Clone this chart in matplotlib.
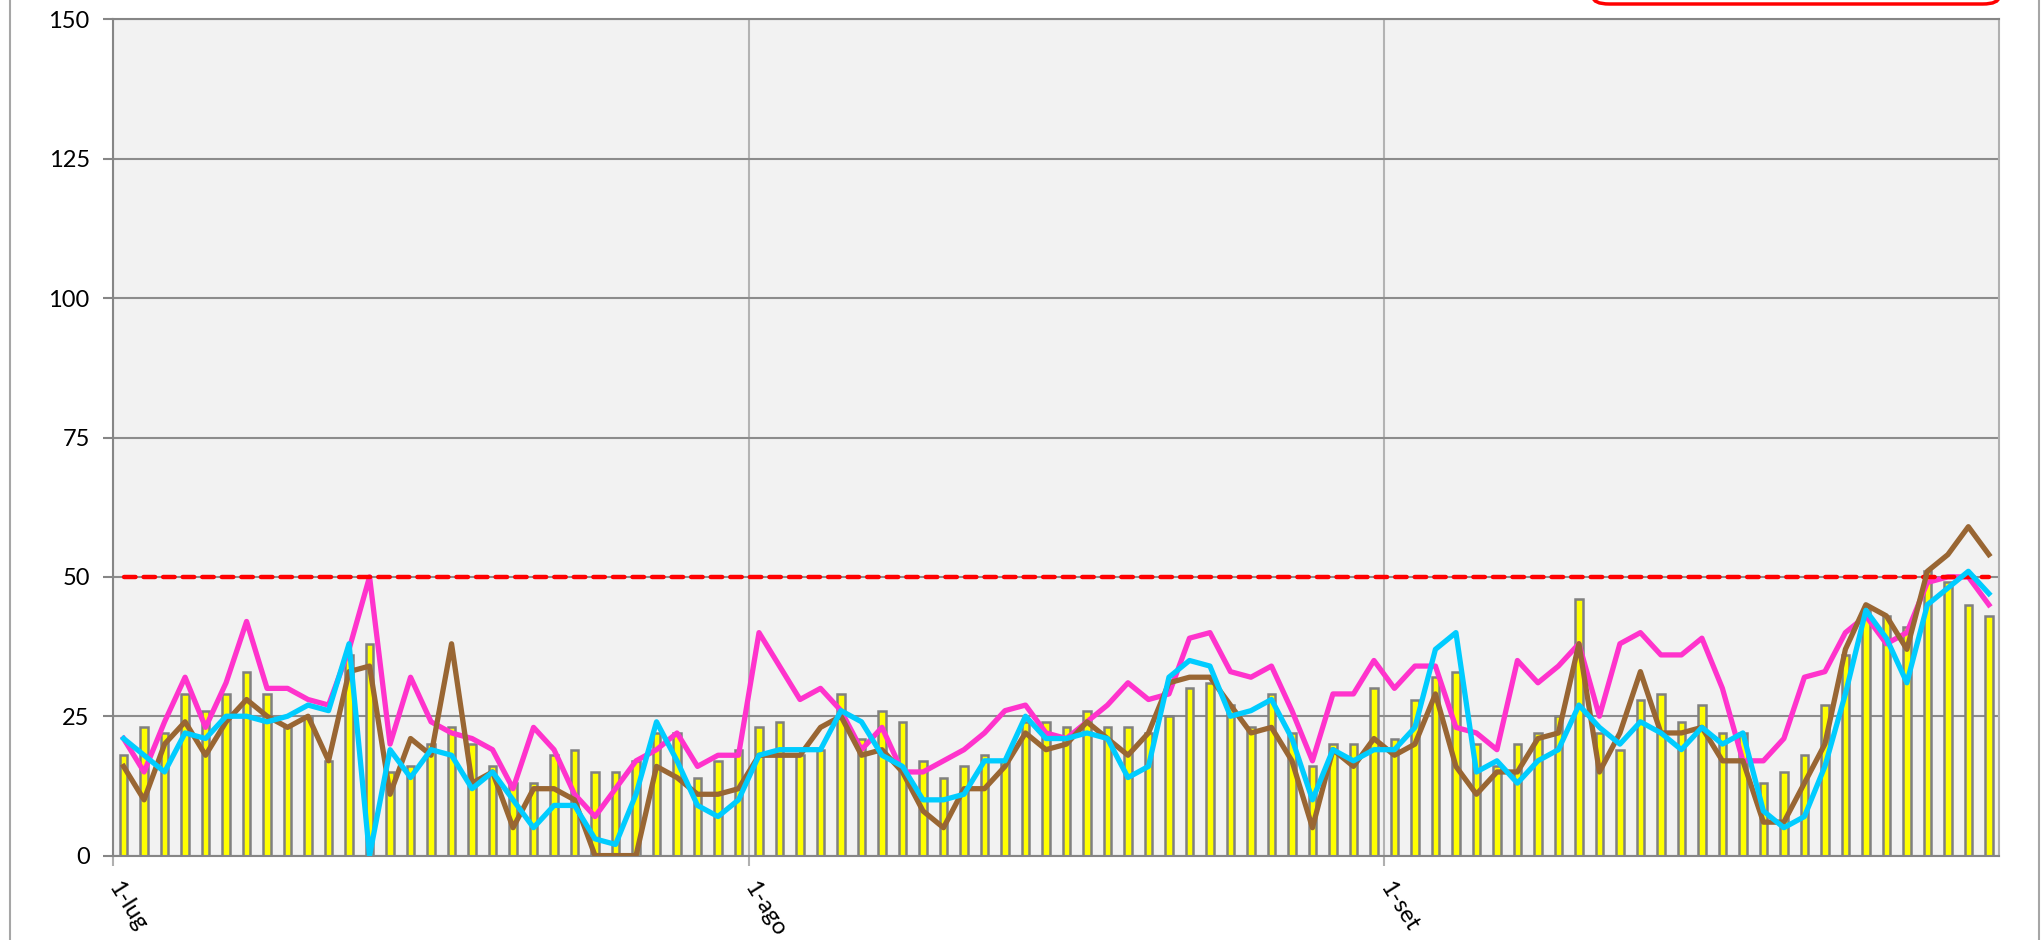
import matplotlib.pyplot as plt
import numpy as np
from matplotlib.patches import FancyBboxPatch

# daily values, 1 July -> 30 September (92 days)
bars = [18, 23, 22, 29, 26, 29, 33, 29, 23, 25, 17, 36, 38, 15, 16, 20,
        23, 20, 16, 13, 13, 18, 19, 15, 15, 17, 22, 22, 14, 17, 19,
        23, 24, 18, 19, 29, 21, 26, 24, 17, 14, 16, 18, 17, 24, 24,
        23, 26, 23, 23, 22, 25, 30, 31, 27, 23, 29, 22, 16, 20, 20, 30,
        21, 28, 32, 33, 20, 16, 20, 22, 25, 46, 22, 19, 28, 29, 24,
        27, 22, 22, 13, 15, 18, 27, 36, 44, 43, 41, 51, 49, 45, 43]
pink = [21, 15, 24, 32, 23, 31, 42, 30, 30, 28, 27, 37, 50, 20, 32, 24,
        22, 21, 19, 12, 23, 19, 11, 7, 12, 17, 19, 22, 16, 18, 18,
        40, 34, 28, 30, 26, 19, 23, 15, 15, 17, 19, 22, 26, 27, 22,
        21, 24, 27, 31, 28, 29, 39, 40, 33, 32, 34, 26, 17, 29, 29, 35,
        30, 34, 34, 23, 22, 19, 35, 31, 34, 38, 25, 38, 40, 36, 36,
        39, 30, 17, 17, 21, 32, 33, 40, 43, 38, 40, 49, 50, 50, 45]
brown = [16, 10, 20, 24, 18, 24, 28, 25, 23, 25, 17, 33, 34, 11, 21, 18,
         38, 13, 15, 5, 12, 12, 10, 0, 0, 0, 16, 14, 11, 11, 12,
         18, 18, 18, 23, 25, 18, 19, 15, 8, 5, 12, 12, 16, 22, 19,
         20, 24, 21, 18, 22, 31, 32, 32, 27, 22, 23, 17, 5, 19, 16, 21,
         18, 20, 29, 16, 11, 15, 15, 21, 22, 38, 15, 22, 33, 22, 22,
         23, 17, 17, 6, 6, 13, 20, 37, 45, 43, 37, 51, 54, 59, 54]
cyan = [21, 18, 15, 22, 21, 25, 25, 24, 25, 27, 26, 38, 0, 19, 14, 19,
        18, 12, 15, 10, 5, 9, 9, 3, 2, 11, 24, 17, 9, 7, 10,
        18, 19, 19, 19, 26, 24, 18, 16, 10, 10, 11, 17, 17, 25, 21,
        21, 22, 21, 14, 16, 32, 35, 34, 25, 26, 28, 21, 10, 19, 17, 19,
        19, 23, 37, 40, 15, 17, 13, 17, 19, 27, 23, 20, 24, 22, 19,
        23, 20, 22, 8, 5, 7, 16, 29, 44, 39, 31, 45, 48, 51, 47]
limit = [50] * len(bars)
month_ticks = [0, 31, 62]
month_labels = ['1-lug', '1-ago', '1-set']

x = np.arange(len(bars)) + 0.5

fig = plt.figure(figsize=(20.42, 9.4), dpi=100)
plt.rcParams['font.family'] = ['Lato', 'DejaVu Sans']
ax = fig.add_axes([0.0555, 0.0898, 0.9235, 0.8895])
ax.set_facecolor('#f2f2f2')
ax.set_axisbelow(True)

ax.bar(x, bars, width=0.36, color='#ffff00', edgecolor='#808080', linewidth=1.8, zorder=2)
ax.plot(x, pink, color='#ff33cc', lw=3.8, zorder=3)
ax.plot(x, limit, color='#ff0000', lw=3.2, dashes=(2.6, 1.8), dash_capstyle='round', zorder=4)
ax.plot(x, brown, color='#996633', lw=3.8, zorder=5)
ax.plot(x, cyan, color='#00ccff', lw=3.8, zorder=6)

ax.set_xlim(0, len(bars))
ax.set_ylim(0, 150)
ax.set_yticks(range(0, 151, 25))
ax.set_xticks(month_ticks)
ax.set_xticklabels(month_labels, rotation=-58, ha='left', va='center',
                   rotation_mode='anchor')
ax.tick_params(axis='y', length=7, width=1.5, color='#868686', labelsize=17, pad=10)
ax.tick_params(axis='x', length=7, width=1.5, color='#b0b0b0', labelsize=17, pad=13)

ax.yaxis.grid(True, color='#8c8c8c', lw=1.5)
ax.xaxis.grid(True, color='#b3b3b3', lw=1.5)
for side in ['left', 'bottom', 'top']:
    ax.spines[side].set_color('#868686')
    ax.spines[side].set_linewidth(1.5)
ax.spines['right'].set_color('#b0b0b0')
ax.spines['right'].set_linewidth(1.5)

# chart area border and the (cut off) legend box
fig.add_artist(plt.Line2D([10 / 2042, 10 / 2042], [0, 1], transform=fig.transFigure,
                          color='#a6a6a6', lw=1.5))
fig.add_artist(plt.Line2D([2039 / 2042, 2039 / 2042], [0, 1], transform=fig.transFigure,
                          color='#a6a6a6', lw=1.5))
box = FancyBboxPatch((1593 / 2042, 1 - 4 / 940), 406 / 2042, 0.05,
                     boxstyle='round,pad=0,rounding_size=0.008', transform=fig.transFigure,
                     facecolor='white', edgecolor='#ff0000', lw=2.5)
fig.add_artist(box)

fig.savefig('out.png', dpi=100)
